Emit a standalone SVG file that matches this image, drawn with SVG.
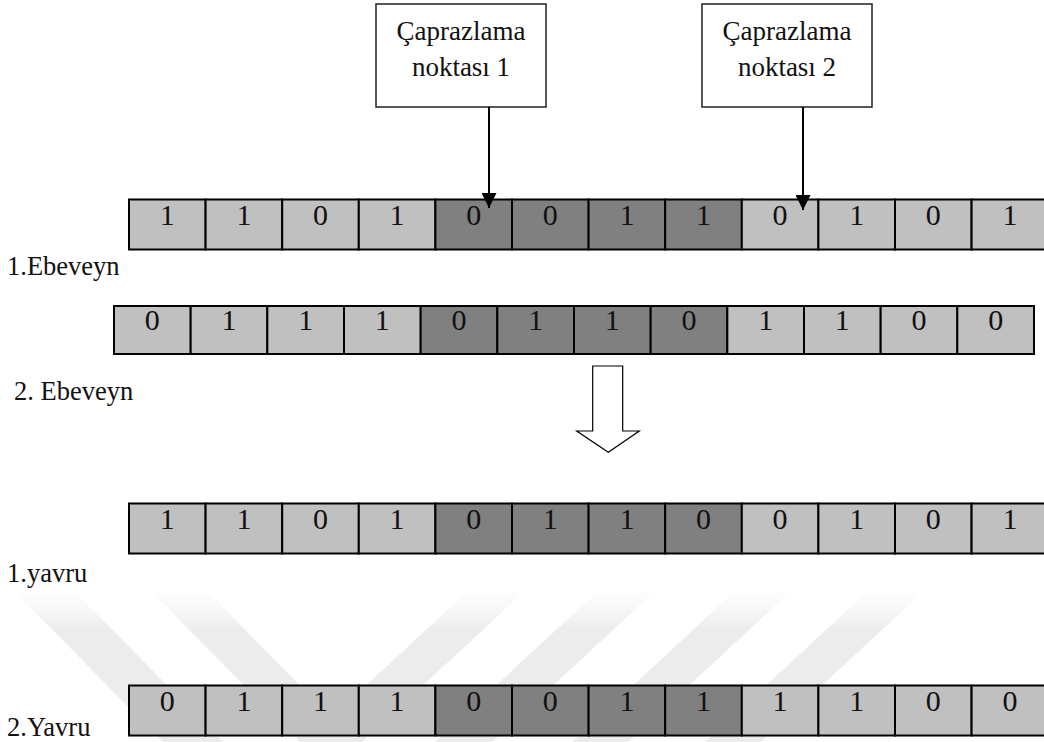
<svg xmlns="http://www.w3.org/2000/svg" width="1044" height="742" viewBox="0 0 1044 742">
  <style>
    text { font-family: "Liberation Serif", "Times New Roman", serif; fill: #111; }
    .lbl { font-size: 26.5px; }
    .bit { font-size: 30px; text-anchor: middle; }
    .box text { font-size: 27px; text-anchor: middle; }
    .box rect { fill: #fff; stroke: #222; stroke-width: 1.5; }
    .lt { fill: #c0c0c0; stroke: #000; stroke-width: 2; }
    .dk { fill: #808080; stroke: #000; stroke-width: 2; }
    .wire { stroke: #000; stroke-width: 2; fill: none; }
  </style>
  <defs>
    <marker id="head" viewBox="0 0 10 10" refX="10" refY="5" markerWidth="16" markerHeight="15" markerUnits="userSpaceOnUse" orient="auto">
      <path d="M0,0 L10,5 L0,10 z" fill="#000"/>
    </marker>
    <linearGradient id="wm" x1="0" y1="586" x2="0" y2="630" gradientUnits="userSpaceOnUse">
      <stop offset="0" stop-color="#f4f4f4" stop-opacity="0"/>
      <stop offset="1" stop-color="#ececec" stop-opacity="1"/>
    </linearGradient>
  </defs>

  <rect width="1044" height="742" fill="#fff"/>

  <!-- faint background bands -->
  <g id="watermark" fill="url(#wm)">
    <polygon points="13,590 73,590 223,742 163,742"/>
    <polygon points="150,590 206,590 356,742 300,742"/>
    <polygon points="469,590 526,590 362,742 305,742"/>
    <polygon points="599,590 656,590 492,742 435,742"/>
    <polygon points="736,590 792,590 628,742 572,742"/>
    <polygon points="869,590 925,590 761,742 705,742"/>
  </g>

  <!-- crossover point boxes -->
  <g id="cp1" class="box">
    <rect x="376" y="4" width="170" height="103"/>
    <text x="461" y="40">Çaprazlama</text>
    <text x="461" y="76">noktası 1</text>
  </g>
  <g id="cp2" class="box">
    <rect x="702" y="4" width="170" height="103"/>
    <text x="787" y="40">Çaprazlama</text>
    <text x="787" y="76">noktası 2</text>
  </g>

  <!-- parent 1 -->
  <g id="parent1">
    <rect class="lt" x="129" y="199.5" width="76.6" height="50"/>
    <rect class="lt" x="205.6" y="199.5" width="76.6" height="50"/>
    <rect class="lt" x="282.2" y="199.5" width="76.6" height="50"/>
    <rect class="lt" x="358.8" y="199.5" width="76.6" height="50"/>
    <rect class="dk" x="435.4" y="199.5" width="76.6" height="50"/>
    <rect class="dk" x="512" y="199.5" width="76.6" height="50"/>
    <rect class="dk" x="588.6" y="199.5" width="76.6" height="50"/>
    <rect class="dk" x="665.2" y="199.5" width="76.6" height="50"/>
    <rect class="lt" x="741.8" y="199.5" width="76.6" height="50"/>
    <rect class="lt" x="818.4" y="199.5" width="76.6" height="50"/>
    <rect class="lt" x="895" y="199.5" width="76.6" height="50"/>
    <rect class="lt" x="971.6" y="199.5" width="76.6" height="50"/>
    <text class="bit" x="167.3" y="225">1</text>
    <text class="bit" x="243.9" y="225">1</text>
    <text class="bit" x="320.5" y="225">0</text>
    <text class="bit" x="397.1" y="225">1</text>
    <text class="bit" x="473.7" y="225">0</text>
    <text class="bit" x="550.3" y="225">0</text>
    <text class="bit" x="626.9" y="225">1</text>
    <text class="bit" x="703.5" y="225">1</text>
    <text class="bit" x="780.1" y="225">0</text>
    <text class="bit" x="856.7" y="225">1</text>
    <text class="bit" x="933.3" y="225">0</text>
    <text class="bit" x="1009.9" y="225">1</text>
  </g>
  <text id="lbl-parent1" class="lbl" x="7" y="275">1.Ebeveyn</text>

  <!-- parent 2 -->
  <g id="parent2">
    <rect class="lt" x="114" y="306" width="76.67" height="48"/>
    <rect class="lt" x="190.67" y="306" width="76.67" height="48"/>
    <rect class="lt" x="267.33" y="306" width="76.67" height="48"/>
    <rect class="lt" x="344" y="306" width="76.67" height="48"/>
    <rect class="dk" x="420.67" y="306" width="76.67" height="48"/>
    <rect class="dk" x="497.33" y="306" width="76.67" height="48"/>
    <rect class="dk" x="574" y="306" width="76.67" height="48"/>
    <rect class="dk" x="650.67" y="306" width="76.67" height="48"/>
    <rect class="lt" x="727.33" y="306" width="76.67" height="48"/>
    <rect class="lt" x="804" y="306" width="76.67" height="48"/>
    <rect class="lt" x="880.67" y="306" width="76.67" height="48"/>
    <rect class="lt" x="957.33" y="306" width="76.67" height="48"/>
    <text class="bit" x="152.3" y="330">0</text>
    <text class="bit" x="229" y="330">1</text>
    <text class="bit" x="305.7" y="330">1</text>
    <text class="bit" x="382.3" y="330">1</text>
    <text class="bit" x="459" y="330">0</text>
    <text class="bit" x="535.7" y="330">1</text>
    <text class="bit" x="612.3" y="330">1</text>
    <text class="bit" x="689" y="330">0</text>
    <text class="bit" x="765.7" y="330">1</text>
    <text class="bit" x="842.3" y="330">1</text>
    <text class="bit" x="919" y="330">0</text>
    <text class="bit" x="995.7" y="330">0</text>
  </g>
  <text id="lbl-parent2" class="lbl" x="14" y="400">2. Ebeveyn</text>

  <!-- block arrow: parents to offspring -->
  <g id="transition">
    <path d="M592.7,366 L622.7,366 L622.7,431 L639.3,431 L608.3,452.3 L576.7,431 L592.7,431 Z" fill="#fff" stroke="#000" stroke-width="1.2"/>
  </g>

  <!-- offspring 1 -->
  <g id="child1">
    <rect class="lt" x="129" y="503.5" width="76.6" height="50"/>
    <rect class="lt" x="205.6" y="503.5" width="76.6" height="50"/>
    <rect class="lt" x="282.2" y="503.5" width="76.6" height="50"/>
    <rect class="lt" x="358.8" y="503.5" width="76.6" height="50"/>
    <rect class="dk" x="435.4" y="503.5" width="76.6" height="50"/>
    <rect class="dk" x="512" y="503.5" width="76.6" height="50"/>
    <rect class="dk" x="588.6" y="503.5" width="76.6" height="50"/>
    <rect class="dk" x="665.2" y="503.5" width="76.6" height="50"/>
    <rect class="lt" x="741.8" y="503.5" width="76.6" height="50"/>
    <rect class="lt" x="818.4" y="503.5" width="76.6" height="50"/>
    <rect class="lt" x="895" y="503.5" width="76.6" height="50"/>
    <rect class="lt" x="971.6" y="503.5" width="76.6" height="50"/>
    <text class="bit" x="167.3" y="529">1</text>
    <text class="bit" x="243.9" y="529">1</text>
    <text class="bit" x="320.5" y="529">0</text>
    <text class="bit" x="397.1" y="529">1</text>
    <text class="bit" x="473.7" y="529">0</text>
    <text class="bit" x="550.3" y="529">1</text>
    <text class="bit" x="626.9" y="529">1</text>
    <text class="bit" x="703.5" y="529">0</text>
    <text class="bit" x="780.1" y="529">0</text>
    <text class="bit" x="856.7" y="529">1</text>
    <text class="bit" x="933.3" y="529">0</text>
    <text class="bit" x="1009.9" y="529">1</text>
  </g>
  <text id="lbl-child1" class="lbl" x="7" y="582">1.yavru</text>

  <!-- offspring 2 -->
  <g id="child2">
    <rect class="lt" x="129" y="685.5" width="76.6" height="50"/>
    <rect class="lt" x="205.6" y="685.5" width="76.6" height="50"/>
    <rect class="lt" x="282.2" y="685.5" width="76.6" height="50"/>
    <rect class="lt" x="358.8" y="685.5" width="76.6" height="50"/>
    <rect class="dk" x="435.4" y="685.5" width="76.6" height="50"/>
    <rect class="dk" x="512" y="685.5" width="76.6" height="50"/>
    <rect class="dk" x="588.6" y="685.5" width="76.6" height="50"/>
    <rect class="dk" x="665.2" y="685.5" width="76.6" height="50"/>
    <rect class="lt" x="741.8" y="685.5" width="76.6" height="50"/>
    <rect class="lt" x="818.4" y="685.5" width="76.6" height="50"/>
    <rect class="lt" x="895" y="685.5" width="76.6" height="50"/>
    <rect class="lt" x="971.6" y="685.5" width="76.6" height="50"/>
    <text class="bit" x="167.3" y="711">0</text>
    <text class="bit" x="243.9" y="711">1</text>
    <text class="bit" x="320.5" y="711">1</text>
    <text class="bit" x="397.1" y="711">1</text>
    <text class="bit" x="473.7" y="711">0</text>
    <text class="bit" x="550.3" y="711">0</text>
    <text class="bit" x="626.9" y="711">1</text>
    <text class="bit" x="703.5" y="711">1</text>
    <text class="bit" x="780.1" y="711">1</text>
    <text class="bit" x="856.7" y="711">1</text>
    <text class="bit" x="933.3" y="711">0</text>
    <text class="bit" x="1009.9" y="711">0</text>
  </g>
  <text id="lbl-child2" class="lbl" x="7" y="736">2.Yavru</text>

  <!-- pointers from the boxes to the cut positions -->
  <g id="connectors">
    <line class="wire" x1="489" y1="107" x2="489" y2="208" marker-end="url(#head)"/>
    <line class="wire" x1="803" y1="107" x2="803" y2="210" marker-end="url(#head)"/>
  </g>
</svg>
